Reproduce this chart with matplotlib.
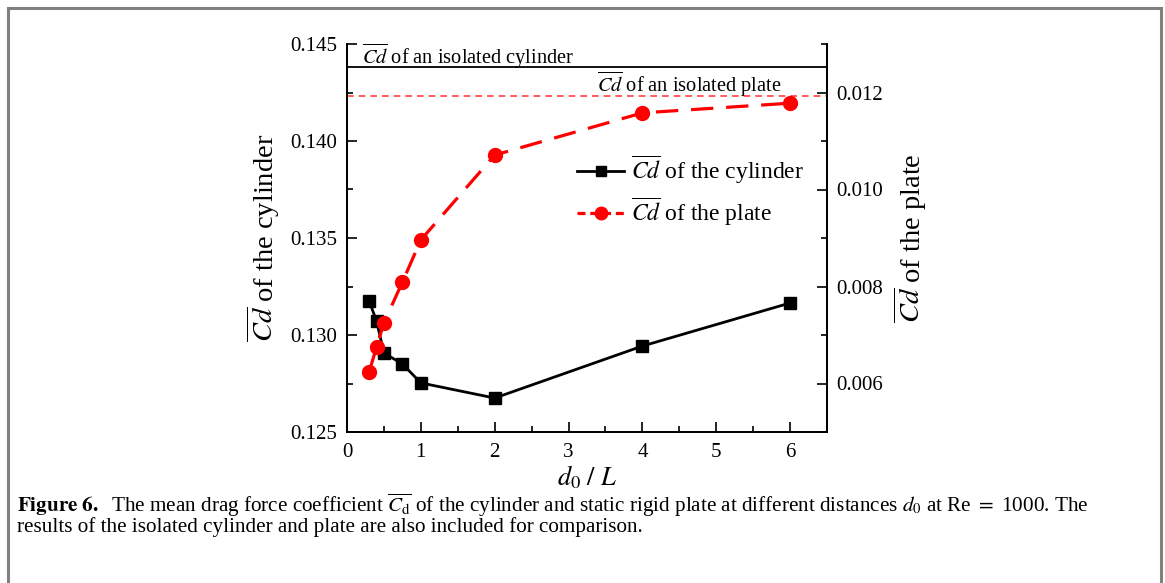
import matplotlib
matplotlib.use("Agg")
import matplotlib.pyplot as plt
from matplotlib.lines import Line2D
from matplotlib.patches import Rectangle
from matplotlib.ticker import MultipleLocator

plt.rcParams['font.family'] = ['Liberation Serif', 'DejaVu Serif']
plt.rcParams['mathtext.fontset'] = 'stix'

# data
d0_L = [0.3, 0.4, 0.5, 0.75, 1, 2, 4, 6]
cd_cylinder = [0.13175, 0.13072, 0.12907, 0.12851, 0.12753, 0.12675, 0.12943, 0.13165]
cd_plate = [0.00624, 0.00675, 0.00725, 0.00809, 0.00896, 0.01071, 0.01158, 0.01178]
cd_cyl_isolated = 0.14381
cd_plate_isolated = 0.01193

cd = r'$\overline{Cd}$'

fig = plt.figure(figsize=(11.65, 5.83), dpi=100)
ax = fig.add_axes([347 / 1165, 1 - 432 / 583, 480 / 1165, 388 / 583])
ax2 = ax.twinx()

# frame around the figure
fig.patches.append(Rectangle((8 / 1165, -0.1), 1153 / 1165, 1.1 - 8 / 583,
                             transform=fig.transFigure, fill=False,
                             edgecolor='#808080', linewidth=2.2, clip_on=False))

ax.axhline(cd_cyl_isolated, color='black', lw=1.3)
ax.plot(d0_L, cd_cylinder, color='black', lw=2, marker='s', ms=8.5)
ax2.axhline(cd_plate_isolated, color='#ff4040', lw=1.2, dashes=(4, 3))
ax2.plot(d0_L, cd_plate, color='#ff0000', lw=2.3, dashes=(7, 4),
         marker='o', ms=10)

ax.set_xlim(0, 6.5)
ax.set_ylim(0.125, 0.145)
ax2.set_ylim(0.005, 0.013)

ax.xaxis.set_major_locator(MultipleLocator(1))
ax.xaxis.set_minor_locator(MultipleLocator(0.5))
ax.yaxis.set_major_locator(MultipleLocator(0.005))
ax.yaxis.set_minor_locator(MultipleLocator(0.0025))
ax2.yaxis.set_major_locator(MultipleLocator(0.002))
ax2.yaxis.set_minor_locator(MultipleLocator(0.001))
ax.yaxis.set_major_formatter(plt.FormatStrFormatter('%.3f'))
ax2.yaxis.set_major_formatter(plt.FormatStrFormatter('%.3f'))

for a in (ax, ax2):
    a.spines['top'].set_visible(False)
    for s in a.spines.values():
        s.set_linewidth(1.3)
    a.tick_params(which='both', direction='in', labelsize=15, width=1.2)
    a.tick_params(which='major', length=7, pad=7)
    a.tick_params(which='minor', length=4)
ax.tick_params(axis='x', pad=8)

ax.set_xlabel(r'$d_0\ /\ L$', fontsize=19, labelpad=1)
ax.set_ylabel(cd + ' of the cylinder', fontsize=20.5, labelpad=6)
ax2.set_ylabel(cd + ' of the plate', fontsize=20.5, labelpad=6)

ax.text(0.2, 0.14438, cd + ' of an isolated cylinder', fontsize=14.7, va='center')
ax.text(3.38, 0.14289, cd + ' of an isolated plate', fontsize=14.7, va='center')

handles = [Line2D([], [], color='black', lw=2, marker='s', ms=7),
           Line2D([], [], color='#ff0000', lw=2.3, dashes=(2.5, 1.5), marker='o', ms=9)]
ax2.legend(handles, [cd + ' of the cylinder', cd + ' of the plate'],
           loc='upper left', bbox_to_anchor=(0.435, 0.773), frameon=False,
           fontsize=17, handlelength=2.0, handletextpad=0.3, labelspacing=0.4)

fig.text(17 / 1165, 1 - 505 / 583,
         r'$\bf{Figure\ 6.}$  The mean drag force coefficient $\overline{C_{\rm d}}$ of the cylinder and static rigid plate at different distances $d_0$ at Re $=$ 1000. The',
         fontsize=15.2, va='center')
fig.text(17 / 1165, 1 - 527 / 583,
         'results of the isolated cylinder and plate are also included for comparison.',
         fontsize=15.2, va='center')

fig.savefig('out.png', dpi=100)
